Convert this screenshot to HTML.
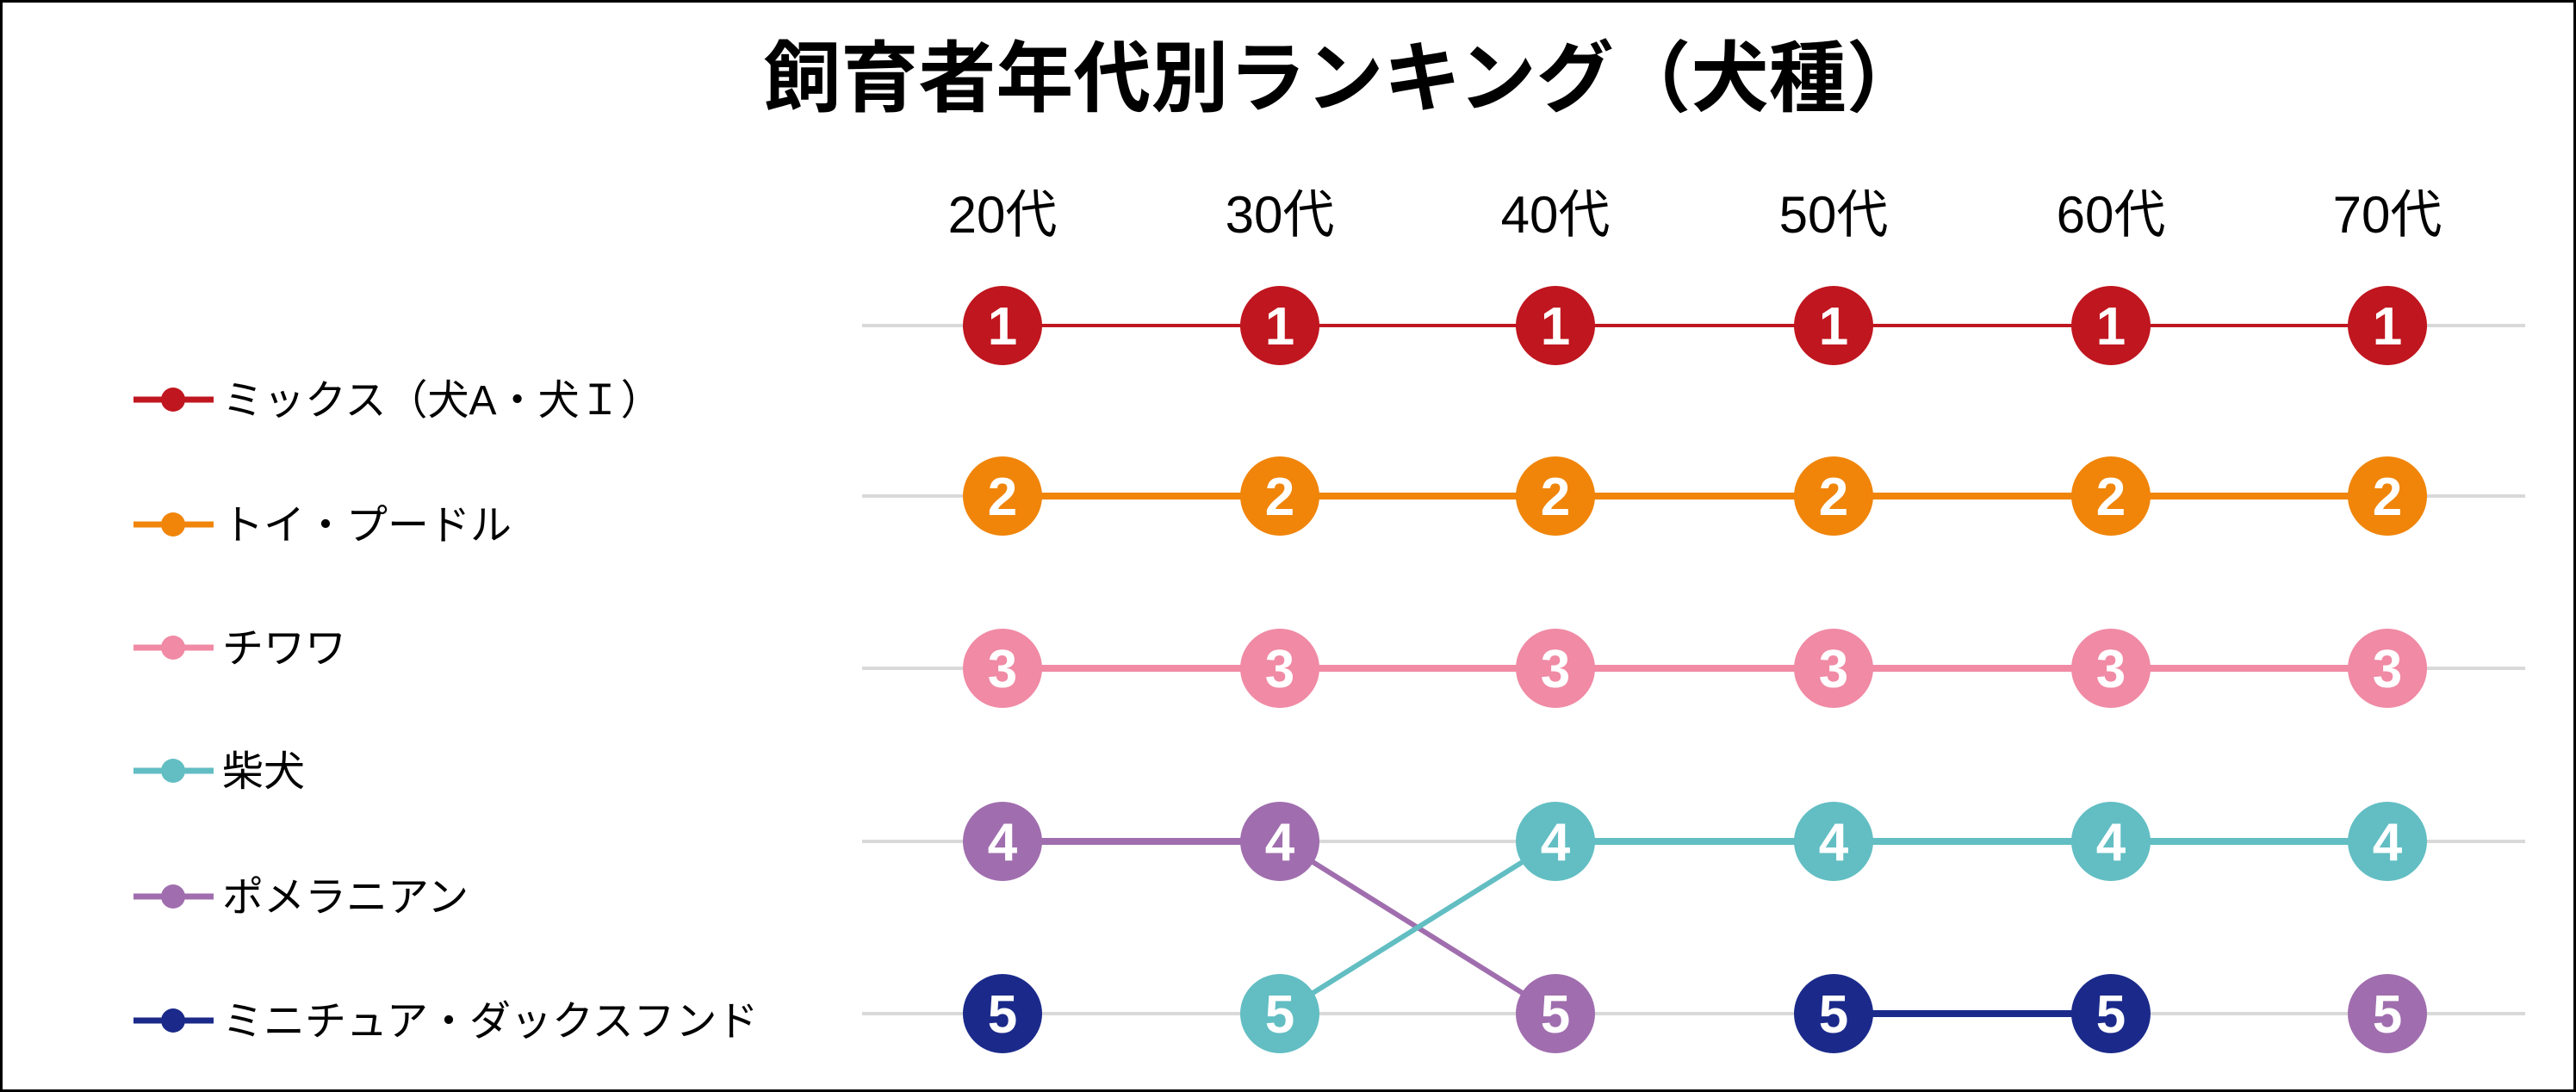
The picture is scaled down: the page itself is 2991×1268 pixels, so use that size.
<!DOCTYPE html>
<html><head><meta charset="utf-8"><style>
html,body{margin:0;padding:0;background:#fff}
svg{display:block}
text{font-family:"Liberation Sans","Noto Sans CJK JP",sans-serif}
</style></head><body>
<svg width="2991" height="1268" viewBox="0 0 2991 1268" xmlns="http://www.w3.org/2000/svg">
<rect x="1.5" y="1.5" width="2988" height="1265" fill="#fff" stroke="#000" stroke-width="3"/>
<text x="1560" y="122" font-size="90" font-weight="bold" text-anchor="middle">飼育者年代別ランキング（犬種）</text>
<g font-size="60" text-anchor="middle">
<text x="1164" y="270">20代</text><text x="1486" y="270">30代</text><text x="1806" y="270">40代</text>
<text x="2129" y="270">50代</text><text x="2451" y="270">60代</text><text x="2772" y="270">70代</text>
</g>
<g stroke="#d9d9d9" stroke-width="4">
<line x1="1001" y1="378" x2="2932" y2="378"/><line x1="1001" y1="576" x2="2932" y2="576"/>
<line x1="1001" y1="776" x2="2932" y2="776"/><line x1="1001" y1="977" x2="2932" y2="977"/>
<line x1="1001" y1="1177" x2="2932" y2="1177"/>
</g>
<line x1="1164" y1="378" x2="2772" y2="378" stroke="#C0161F" stroke-width="4"/>
<line x1="1164" y1="576" x2="2772" y2="576" stroke="#F0850A" stroke-width="8"/>
<line x1="1164" y1="776" x2="2772" y2="776" stroke="#F08AA5" stroke-width="8"/>
<line x1="1164" y1="977" x2="1486" y2="977" stroke="#A06EAE" stroke-width="8"/>
<line x1="1486" y1="977" x2="1806" y2="1177" stroke="#A06EAE" stroke-width="6"/>
<line x1="1486" y1="1177" x2="1806" y2="977" stroke="#62BEC3" stroke-width="6"/>
<line x1="1806" y1="977" x2="2772" y2="977" stroke="#62BEC3" stroke-width="8"/>
<line x1="2129" y1="1177" x2="2451" y2="1177" stroke="#1B2A8A" stroke-width="8"/>
<g font-size="62" font-weight="bold" fill="#fff" text-anchor="middle">
<g fill="#C0161F"><circle cx="1164" cy="378" r="46"/><circle cx="1486" cy="378" r="46"/><circle cx="1806" cy="378" r="46"/><circle cx="2129" cy="378" r="46"/><circle cx="2451" cy="378" r="46"/><circle cx="2772" cy="378" r="46"/></g>
<g fill="#F0850A"><circle cx="1164" cy="576" r="46"/><circle cx="1486" cy="576" r="46"/><circle cx="1806" cy="576" r="46"/><circle cx="2129" cy="576" r="46"/><circle cx="2451" cy="576" r="46"/><circle cx="2772" cy="576" r="46"/></g>
<g fill="#F08AA5"><circle cx="1164" cy="776" r="46"/><circle cx="1486" cy="776" r="46"/><circle cx="1806" cy="776" r="46"/><circle cx="2129" cy="776" r="46"/><circle cx="2451" cy="776" r="46"/><circle cx="2772" cy="776" r="46"/></g>
<g fill="#A06EAE"><circle cx="1164" cy="977" r="46"/><circle cx="1486" cy="977" r="46"/><circle cx="1806" cy="1177" r="46"/><circle cx="2772" cy="1177" r="46"/></g>
<g fill="#62BEC3"><circle cx="1486" cy="1177" r="46"/><circle cx="1806" cy="977" r="46"/><circle cx="2129" cy="977" r="46"/><circle cx="2451" cy="977" r="46"/><circle cx="2772" cy="977" r="46"/></g>
<g fill="#1B2A8A"><circle cx="1164" cy="1177" r="46"/><circle cx="2129" cy="1177" r="46"/><circle cx="2451" cy="1177" r="46"/></g>
<text x="1164" y="400">1</text><text x="1486" y="400">1</text><text x="1806" y="400">1</text><text x="2129" y="400">1</text><text x="2451" y="400">1</text><text x="2772" y="400">1</text>
<text x="1164" y="598">2</text><text x="1486" y="598">2</text><text x="1806" y="598">2</text><text x="2129" y="598">2</text><text x="2451" y="598">2</text><text x="2772" y="598">2</text>
<text x="1164" y="798">3</text><text x="1486" y="798">3</text><text x="1806" y="798">3</text><text x="2129" y="798">3</text><text x="2451" y="798">3</text><text x="2772" y="798">3</text>
<text x="1164" y="999">4</text><text x="1486" y="999">4</text><text x="1806" y="999">4</text><text x="2129" y="999">4</text><text x="2451" y="999">4</text><text x="2772" y="999">4</text>
<text x="1164" y="1199">5</text><text x="1486" y="1199">5</text><text x="1806" y="1199">5</text><text x="2129" y="1199">5</text><text x="2451" y="1199">5</text><text x="2772" y="1199">5</text>
</g>
<g font-size="48">
<line x1="155" y1="464" x2="248" y2="464" stroke="#C0161F" stroke-width="7"/><circle cx="201" cy="464" r="14" fill="#C0161F"/>
<text x="258" y="481">ミックス（犬A・犬Ｉ）</text>
<line x1="155" y1="609" x2="248" y2="609" stroke="#F0850A" stroke-width="7"/><circle cx="201" cy="609" r="14" fill="#F0850A"/>
<text x="258" y="626">トイ・プードル</text>
<line x1="155" y1="752" x2="248" y2="752" stroke="#F08AA5" stroke-width="7"/><circle cx="201" cy="752" r="14" fill="#F08AA5"/>
<text x="258" y="769">チワワ</text>
<line x1="155" y1="895" x2="248" y2="895" stroke="#62BEC3" stroke-width="7"/><circle cx="201" cy="895" r="14" fill="#62BEC3"/>
<text x="258" y="912">柴犬</text>
<line x1="155" y1="1041" x2="248" y2="1041" stroke="#A06EAE" stroke-width="7"/><circle cx="201" cy="1041" r="14" fill="#A06EAE"/>
<text x="258" y="1058">ポメラニアン</text>
<line x1="155" y1="1185" x2="248" y2="1185" stroke="#1B2A8A" stroke-width="7"/><circle cx="201" cy="1185" r="14" fill="#1B2A8A"/>
<text x="258" y="1202">ミニチュア・ダックスフンド</text>
</g>
</svg>
</body></html>
